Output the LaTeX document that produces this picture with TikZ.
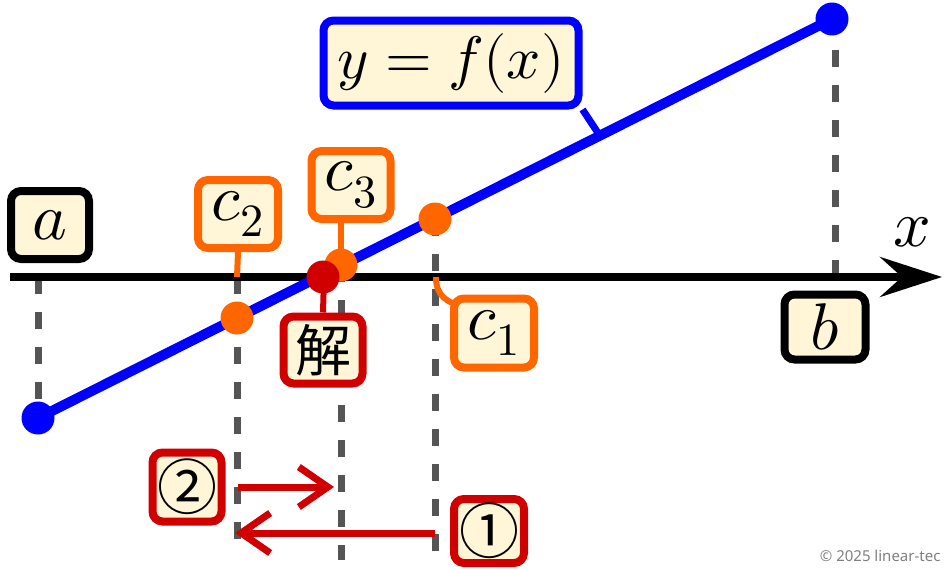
\documentclass[tikz,border=0pt]{standalone}
\usepackage{fontspec}
\usepackage{unicode-math}
\setmathfont{Latin Modern Math}
\newfontfamily\jpfont{Noto Sans CJK JP}
\newfontfamily\copyfont{Noto Sans}
\usetikzlibrary{arrows.meta}
\definecolor{cream}{HTML}{FFF5D7}
\definecolor{fblue}{HTML}{0000FF}
\definecolor{corange}{HTML}{FF6600}
\definecolor{sred}{HTML}{D00000}
\definecolor{dgray}{HTML}{555555}
\begin{document}
\begin{tikzpicture}[x=1pt,y=-1pt,
  box/.style={draw, line width=8pt, fill=cream, rounded corners=10pt, inner sep=0pt,
    font=\fontsize{66}{66}\selectfont},
  guide/.style={draw=dgray, line width=7pt, dash pattern=on 17pt off 18pt},
  pt/.style={circle, minimum size=33pt, inner sep=0pt},
  conn/.style={line width=6pt},
  red arrow/.style={draw=sred, line width=7pt, -{Straight Barb[length=29pt,width=40pt]}}
]
\useasboundingbox (0,0) rectangle (950,570);
% coordinates
\coordinate (A) at (38,418);
\coordinate (B) at (832,19);
\coordinate (aax) at (38,277);
\coordinate (bax) at (835,277);
\coordinate (btop) at (835,22);
\coordinate (c2ax) at (237,277);
\coordinate (c1ax) at (436,277);
\coordinate (c1end) at (466,308);
\coordinate (xl) at (10,277);
\coordinate (xr) at (942,277);
\coordinate (fp) at (600,136);
\coordinate (g2b) at (237,545);
\coordinate (g3b) at (341,560);
\coordinate (g1b) at (435,558);
% guide lines
\draw[guide] (aax) -- (A);
\draw[guide] (bax) -- (btop);
\draw[guide] (c2ax) -- (g2b);
\draw[guide] (341,265) -- (g3b);
\draw[guide] (435,219) -- (g1b);
% axis
\draw[line width=7.5pt, -{Stealth[length=62pt,width=40pt,inset=22pt]}] (xl) -- (xr);
% function line
\draw[fblue, line width=10pt] (A) -- (B);
% points
\node[pt, fill=fblue] (pA) at (A) {};
\node[pt, fill=fblue] (pB) at (B) {};
\node[pt, fill=corange] (c1p) at (435,219) {};
\node[pt, fill=corange] (c2p) at (237,318) {};
\node[pt, fill=corange] (c3p) at (341,265) {};
% boxes
\node[box, minimum width=78pt, minimum height=68pt] (abox) at (50,225) {$a$};
\node[box, minimum width=81pt, minimum height=65pt] (bbox) at (825,327) {$b$};
\node[font=\fontsize{66}{66}\selectfont] (xlab) at (912,232) {$x$};
\node[box, draw=fblue, minimum width=255pt, minimum height=85pt, font=\fontsize{60}{60}\selectfont] (fbox) at (451,63) {$y = f(x)$};
\node[box, draw=corange, minimum width=80pt, minimum height=68pt] (c2box) at (238,214) {$c_{2}$};
\node[box, draw=corange, minimum width=79pt, minimum height=68pt] (c3box) at (351,185) {$c_{3}$};
% connectors
\draw[fblue, line width=7pt] (fbox.south east) -- (fp);
\draw[corange, conn] (c2box.south) -- (c2ax);
\draw[corange, conn] (c3p.center) -- (c3p |- c3box.south);
\draw[corange, conn] (c1ax) .. controls (436,296) and (446,302) .. (c1end);
\node[box, draw=corange, minimum width=80pt, minimum height=69pt] (c1box) at (494,333) {$c_{1}$};
\node[box, draw=sred, minimum width=79pt, minimum height=67pt, font=\jpfont\fontsize{56}{56}\selectfont] (sol) at (323,350) {解};
\draw[sred, conn] (324,277) -- (sol.north);
\node[pt, fill=sred] (solp) at (323,277) {};
% step boxes
\node[box, draw=sred, minimum width=69pt, minimum height=69pt, font=\jpfont\fontsize{60}{60}\selectfont] (s2) at (187,487) {②};
\node[box, draw=sred, minimum width=70pt, minimum height=64pt, font=\jpfont\fontsize{60}{60}\selectfont] (s1) at (489,531) {①};
% arrows
\coordinate (a2s) at (238,487);
\coordinate (a2e) at (334,487);
\coordinate (a1s) at (435,533);
\coordinate (a1e) at (235,533);
\draw[red arrow] (a2s) -- (a2e);
\draw[red arrow] (a1s) -- (a1e);
% copyright
\node[anchor=east, text=gray, font=\copyfont\fontsize{15}{15}\selectfont] (copy) at (944,556) {© 2025 linear-tec};
\end{tikzpicture}
\end{document}
